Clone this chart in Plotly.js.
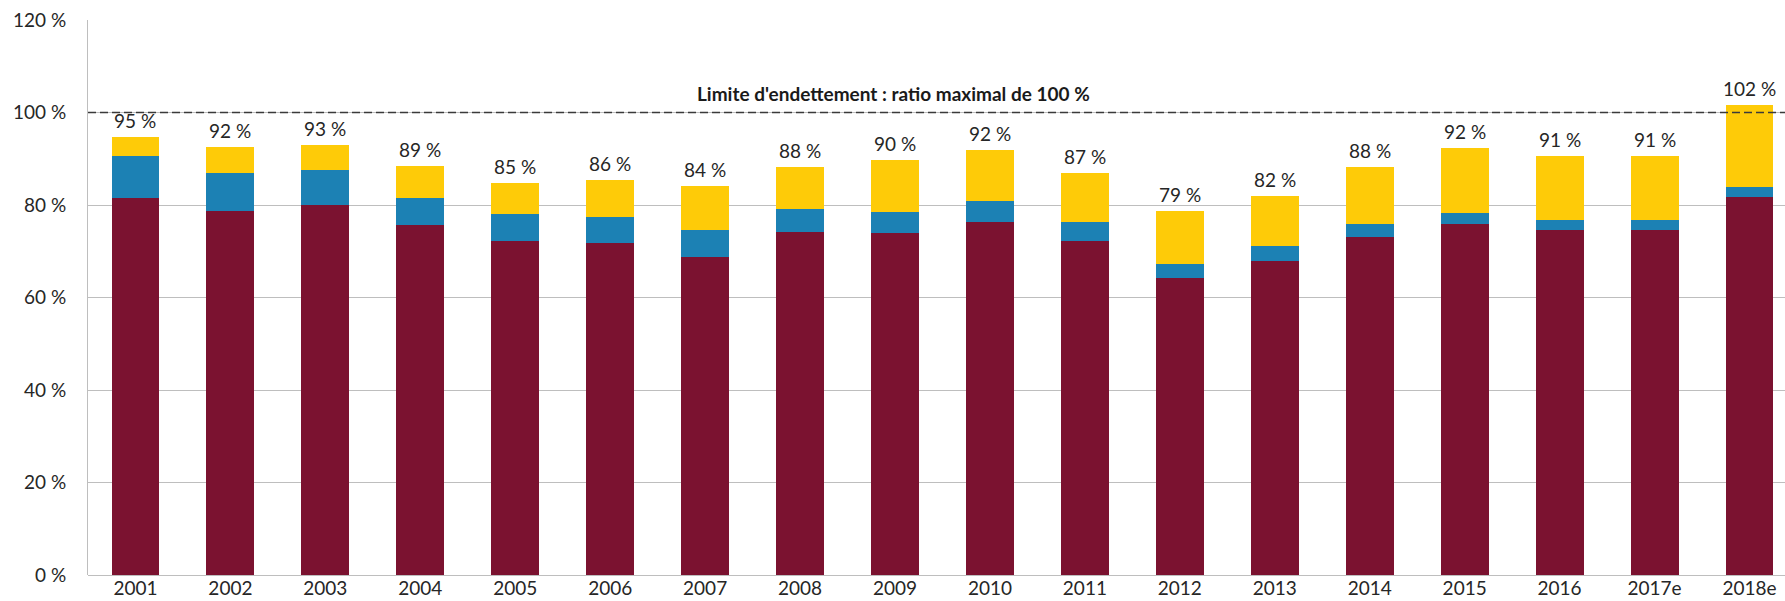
<!DOCTYPE html>
<html>
<head>
<meta charset="utf-8">
<script src="https://cdn.plot.ly/plotly-3.0.1.min.js"></script>
<style>
  html, body { margin: 0; padding: 0; background: #ffffff; }
  #chart { width: 1785px; height: 601px; }
</style>
</head>
<body>
<div id="chart"></div>
<script>
const years = ['2001','2002','2003','2004','2005','2006','2007','2008','2009','2010','2011','2012','2013','2014','2015','2016','2017e','2018e'];
const partMaroon = [81.5, 78.8, 80.0, 75.7, 72.2, 71.8, 68.7, 74.2, 74.0, 76.3, 72.2, 64.2, 68.0, 73.0, 76.0, 74.7, 74.7, 81.7];
const partBlue   = [9.2, 8.2, 7.5, 5.8, 5.8, 5.7, 6.0, 5.0, 4.5, 4.6, 4.1, 3.0, 3.2, 3.0, 2.2, 2.1, 2.1, 2.1];
const partYellow = [4.1, 5.5, 5.5, 7.0, 6.8, 8.0, 9.4, 9.1, 11.2, 11.1, 10.7, 11.6, 10.8, 12.3, 14.1, 13.9, 13.9, 17.9];
const totalLabels = ['95 %','92 %','93 %','89 %','85 %','86 %','84 %','88 %','90 %','92 %','87 %','79 %','82 %','88 %','92 %','91 %','91 %','102 %'];
const yTickVals = [0, 20, 40, 60, 80, 100, 120];
const yTickText = ['0 %','20 %','40 %','60 %','80 %','100 %','120 %'];
const limitValue = 100;
const limitText = "Limite d'endettement : ratio maximal de 100 %";

const FONT = 'Lato, "Open Sans", sans-serif';
const TXT = '#262626';
const BW = 0.505;

const traces = [
  { type: 'bar', x: years, y: partMaroon, width: BW, marker: { color: '#7B1230', line: { width: 0 } }, hoverinfo: 'skip' },
  { type: 'bar', x: years, y: partBlue,   width: BW, marker: { color: '#1C81B4', line: { width: 0 } }, hoverinfo: 'skip' },
  { type: 'bar', x: years, y: partYellow, width: BW, marker: { color: '#FECB08', line: { width: 0 } }, hoverinfo: 'skip' }
];

const annotations = years.map((yr, i) => ({
  x: i, y: partMaroon[i] + partBlue[i] + partYellow[i],
  xref: 'x', yref: 'y', text: totalLabels[i], showarrow: false,
  yanchor: 'bottom', yshift: 3,
  font: { family: FONT, size: 19, color: TXT }
}));
annotations.push({
  x: 7.98, y: limitValue, xref: 'x', yref: 'y', text: '<b>' + limitText + '</b>',
  showarrow: false, yanchor: 'bottom', yshift: 5,
  font: { family: FONT, size: 19, color: '#1a1a1a' }
});

const layout = {
  width: 1785, height: 601,
  margin: { l: 88, r: 0, t: 20, b: 26, pad: 0 },
  paper_bgcolor: '#ffffff', plot_bgcolor: '#ffffff',
  barmode: 'stack',
  showlegend: false,
  xaxis: {
    type: 'category', range: [-0.5, 17.374],
    showgrid: false, zeroline: false,
    showline: false, ticks: '',
    tickfont: { family: FONT, size: 19, color: TXT },
    fixedrange: true
  },
  yaxis: {
    range: [0, 120], tickvals: yTickVals, ticktext: yTickText,
    showgrid: true, gridcolor: '#BEBEBE', gridwidth: 1,
    zeroline: true, zerolinecolor: '#BEBEBE', zerolinewidth: 1,
    showline: true, linecolor: '#BEBEBE', linewidth: 1,
    ticks: '', ticklabelstandoff: 17,
    tickfont: { family: FONT, size: 19, color: TXT },
    fixedrange: true
  },
  shapes: [{
    type: 'line', xref: 'paper', yref: 'y', x0: 0, x1: 1, y0: limitValue, y1: limitValue,
    line: { color: '#3a3a3a', width: 1.4, dash: '8px,4px' }, layer: 'above'
  }],
  annotations: annotations
};

Plotly.newPlot('chart', traces, layout, { displayModeBar: false, staticPlot: true });
</script>
</body>
</html>
